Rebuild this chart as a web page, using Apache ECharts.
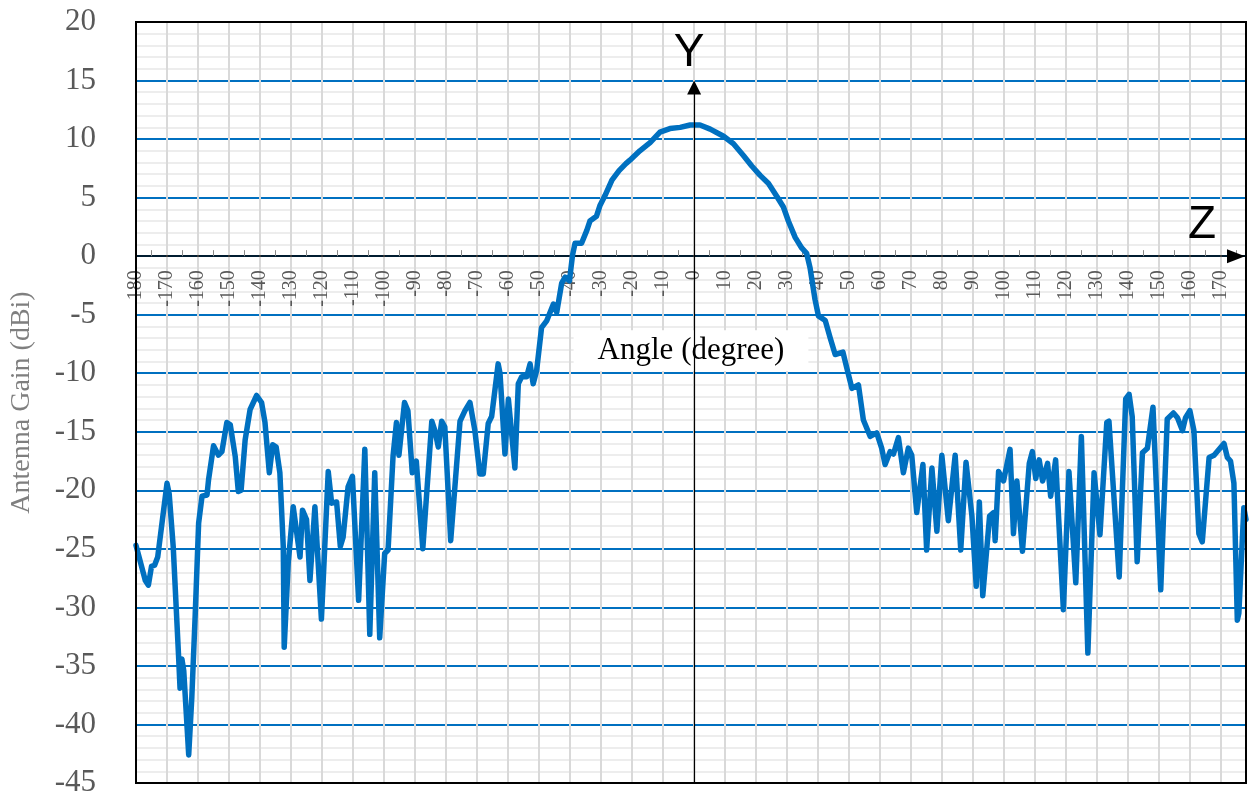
<!DOCTYPE html>
<html>
<head>
<meta charset="utf-8">
<script src="https://cdn.jsdelivr.net/npm/echarts@6/dist/echarts.min.js"></script>
<style>
html,body{margin:0;padding:0;background:#fff;}
#c{width:1251px;height:802px;}
</style>
</head>
<body>
<div id="c"></div>
<script>
// Angle (degree) and antenna gain (dBi)
const angles = [
-180,-177,-176,-175,-174,-173,-170,-169.3,-168,-166.3,-165.8,-165.2,-164.6,-163,-162,-160.9,-159.8,-158.7,-157.1,-156.6,
-155,-153.4,-152.3,-150.7,-149.6,-148,-147,-146.1,-144.8,-143.2,-141.1,-139.5,-138.4,-137,-135.9,-134.8,-133.6,-132.5,-132.2,-130.9,
-129.3,-127.1,-126.3,-125,-123.9,-122.3,-120.2,-118,-116.9,-115.3,-114.1,-113.2,-111.6,-110.2,-108.2,-106.2,-104.6,-103,-101.4,-99.8,
-98.7,-97.1,-96,-95.2,-93.4,-92.3,-90.9,-89.6,-87.5,-84.6,-83.6,-82.5,-81.4,-80.4,-78.5,-75.5,-73.9,-72.3,-70.7,-69.1,
-68,-66.4,-65.3,-63.2,-62.6,-61,-59.9,-57.8,-56.7,-55.6,-54,-52.9,-51.9,-50.8,-49.2,-47.5,-45.4,-44.3,-42.7,-41.6,
-40.2,-39.2,-38.4,-36.3,-34.6,-33.6,-31.5,-30.4,-28.7,-26.5,-24.2,-22,-20.7,-17.5,-14.2,-11,-7.8,-4.5,-1.3,1.9,
5.2,9.5,12.7,15.9,18.6,21.3,24,26.7,28.8,30.4,32.6,34.7,36.3,37.4,39,40.1,42.3,43.9,45.5,48,
49.2,50.9,53,54.6,56.8,58.9,60.5,61.6,63.2,64.3,65.9,67.5,69.1,70.2,71.8,73.8,75,76.7,78.3,79.9,
82,84.2,86,87.7,89.6,91,92,93.1,95.3,96.6,97.1,98.2,99.8,101.9,103,104.1,105.9,108.1,109.1,110.2,
111.3,112.4,114,115,116.6,119.1,120.9,123.1,124.9,127,129,130.9,133.1,133.8,137.1,139.2,140.3,141.3,142.9,144.6,
146.2,148,150.5,151,152.6,154.6,155.9,157.5,158.5,159.9,161.2,162.8,163.9,166.1,167.7,170.9,172,173,174.1,175.2,
175.7,177.3,178
];
const gains = [
-24.7,-27.7,-28.1,-26.5,-26.4,-25.7,-19.4,-20.3,-24.8,-34,-36.9,-34.4,-35.4,-42.6,-37.7,-30.6,-22.8,-20.5,-20.4,-19.1,
-16.2,-17,-16.7,-14.2,-14.4,-17.1,-20.1,-20,-15.7,-13.1,-11.9,-12.5,-14.2,-18.5,-16.1,-16.3,-18.5,-24.8,-33.4,-26.2,
-21.4,-25.7,-21.7,-22.5,-27.7,-21.4,-31,-18.4,-21.1,-21,-24.8,-24,-19.7,-18.8,-29.4,-16.5,-32.3,-18.5,-32.6,-25.4,
-25.1,-17.1,-14.2,-17,-12.5,-13.2,-18.5,-17.5,-25,-14.1,-14.9,-16.3,-14.1,-14.6,-24.3,-14.1,-13.2,-12.5,-14.9,-18.6,
-18.6,-14.3,-13.7,-9.2,-10,-16.9,-12.2,-18.1,-10.9,-10.3,-10.3,-9.2,-10.9,-9.8,-6.1,-5.5,-4.1,-4.8,-2.3,-1.8,
-2.1,0.1,1.1,1.1,2.2,3.0,3.4,4.3,5.2,6.5,7.3,7.9,8.2,9.0,9.7,10.6,10.9,11.0,11.2,11.2,
10.85,10.24,9.6,8.6,7.7,6.9,6.2,5.1,4.2,3.0,1.6,0.7,0.24,-1,-3.7,-5.1,-5.5,-7,-8.4,-8.2,
-9.5,-11.3,-11,-14,-15.4,-15.1,-16.4,-17.8,-16.7,-16.9,-15.5,-18.5,-16.4,-17,-21.9,-17.8,-25.1,-18.1,-23.5,-17,
-22.6,-17,-25.1,-17.6,-22.2,-28.2,-21,-29,-22.2,-21.9,-24.3,-18.4,-19.2,-16.5,-23.7,-19.2,-25.2,-17.7,-16.7,-19,
-17.4,-19.2,-17.7,-20.5,-17.4,-30.2,-18.4,-27.9,-15.4,-33.9,-18.5,-23.8,-14.2,-14.1,-27.4,-12.2,-11.8,-13.7,-26.1,-16.8,
-16.4,-12.9,-28.5,-28.4,-13.9,-13.4,-13.8,-14.9,-13.8,-13.2,-14.9,-23.7,-24.4,-17.2,-17,-16,-17.2,-17.5,-19.4,-31.1,
-30.5,-21.5,-22.5
];
const xMin = -180, xMax = 178, xStep = 10;
const yMin = -45, yMax = 20, yStep = 5;
const xTitle = 'Angle (degree)';
const yTitle = 'Antenna Gain (dBi)';
const yAxisTop = 14.4; // end of the vertical "Y" arrow, in dBi

const seriesData = angles.map((a, i) => [a, gains[i]]);
const serif = '"Liberation Serif", "DejaVu Serif", serif';
const sans = '"Liberation Sans", Arial, sans-serif';

const chart = echarts.init(document.getElementById('c'), null, {renderer: 'canvas'});
chart.setOption({
  animation: false,
  backgroundColor: '#fff',
  grid: {left: 136, right: 5, top: 22, bottom: 19, outerBoundsMode: 'none', containLabel: false,
         show: true, borderColor: '#000', borderWidth: 2, backgroundColor: '#fff'},
  xAxis: {
    type: 'value', min: xMin, max: xMax, interval: xStep, z: 1, position: 'bottom', offset: 0,
    axisLine: {onZero: false, lineStyle: {color: '#000', width: 1.5}, symbol: ['none', 'triangle'], symbolSize: [14, 18], symbolOffset: [0, -10]},
    axisTick: {show: false, inside: true},
    minorTick: {show: true, splitNumber: 2, length: 6, lineStyle: {color: '#888', width: 1}},
    axisLabel: {rotate: 90, margin: 14, color: '#595959', fontFamily: serif, fontSize: 20, showMaxLabel: false, showMinLabel: true, hideOverlap: false},
    splitLine: {show: true, lineStyle: {color: '#d9d9d9', width: 2}},
    name: xTitle, nameLocation: 'middle', nameGap: 74, nameMoveOverlap: false,
    nameTextStyle: {color: '#000', fontFamily: serif, fontSize: 31, backgroundColor: '#fff', padding: [5, 24, 5, 24]}
  },
  yAxis: {
    type: 'value', min: yMin, max: yMax, interval: yStep, z: 0,
    axisLine: {show: false},
    axisTick: {show: false},
    minorTick: {show: false, splitNumber: 5},
    minorSplitLine: {show: true, lineStyle: {color: '#ededed', width: 2}},
    splitLine: {show: true, lineStyle: {color: '#0070C0', width: 2}},
    axisLabel: {color: '#595959', fontFamily: serif, fontSize: 31, margin: 40},
    name: yTitle, nameLocation: 'middle', nameGap: 100, nameRotate: 90,
    nameTextStyle: {color: '#7f7f7f', fontFamily: serif, fontSize: 28}
  },
  series: [{
    type: 'line',
    data: seriesData,
    showSymbol: false,
    z: 3,
    lineStyle: {color: '#0070C0', width: 5.5, join: 'round', cap: 'round'},
    markLine: {
      silent: true,
      symbol: ['none', 'triangle'],
      symbolSize: [14, 14],
      label: {show: false},
      lineStyle: {color: '#000', width: 1.2, type: 'solid'},
      data: [[{coord: [0, yMin]}, {coord: [0, yAxisTop]}]]
    }
  }]
});
// Move the horizontal (Z) axis line, its ticks and labels up to gain = 0, as in the reference.
const zeroY = chart.convertToPixel({yAxisIndex: 0}, 0);
const bottomY = chart.convertToPixel({yAxisIndex: 0}, yMin);
const tl = chart.convertToPixel({gridIndex: 0}, [xMin, yMax]);
const br = chart.convertToPixel({gridIndex: 0}, [xMax, yMin]);
chart.setOption({
  xAxis: {offset: zeroY - bottomY},
  graphic: [
    {type: 'rect', z: 50, silent: true,
     shape: {x: tl[0], y: tl[1], width: br[0] - tl[0], height: br[1] - tl[1]},
     style: {fill: 'none', stroke: '#000', lineWidth: 2}},
    {type: 'text', x: 689, y: 53, z: 100, style: {text: 'Y', font: '46px ' + sans, fill: '#000', align: 'center', verticalAlign: 'middle'}},
    {type: 'text', x: 1202, y: 225, z: 100, style: {text: 'Z', font: '46px ' + sans, fill: '#000', align: 'center', verticalAlign: 'middle'}}
  ]
});
</script>
</body>
</html>
